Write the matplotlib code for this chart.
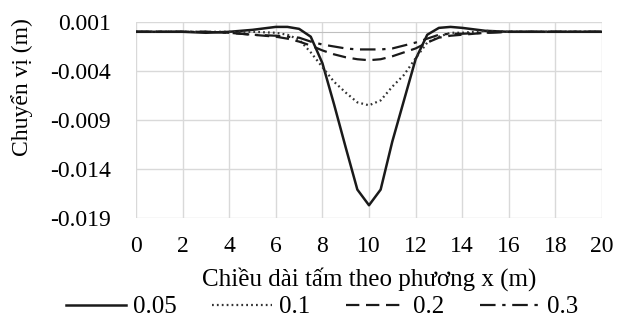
import matplotlib
matplotlib.use('Agg')
import matplotlib.pyplot as plt

# x positions along the plate (m)
x = [0, 1, 2, 3, 4, 5, 6, 6.5, 7, 7.5, 8, 8.5, 9, 9.5, 10, 10.5, 11, 11.5, 12, 12.5, 13, 13.5, 14, 15, 16, 17, 18, 19, 20]

# displacement (m) for each series
d_005 = [0, 0, 0, -0.0001, 0, 0.0002, 0.0005, 0.0005, 0.0003, -0.0005, -0.0032, -0.0074, -0.0118, -0.0161, -0.0177,
         -0.0161, -0.0112, -0.0070, -0.0028, -0.0003, 0.0004, 0.0005, 0.0004, 0.0001, 0, 0, 0, 0, 0]
d_01 = [0, 0, 0, 0, 0, 0, -0.0001, -0.0003, -0.0008, -0.0021, -0.0036, -0.0051, -0.0062, -0.0072, -0.0075,
        -0.0070, -0.0056, -0.0044, -0.0027, -0.0011, -0.0005, -0.0001, -0.0001, 0.0001, 0, 0, 0, 0, 0]
d_02 = [0, 0, 0, 0, -0.0001, -0.0003, -0.0005, -0.0007, -0.0010, -0.0014, -0.0019, -0.0023, -0.0026, -0.0028, -0.0029,
        -0.0028, -0.0025, -0.0021, -0.0017, -0.0011, -0.0006, -0.0004, -0.0003, -0.0001, 0, 0, 0, 0, 0]
d_03 = [0, 0, 0, 0, -0.0001, -0.0003, -0.0004, -0.0005, -0.0006, -0.0010, -0.0013, -0.0015, -0.0017, -0.0018, -0.0018,
        -0.0018, -0.0017, -0.0014, -0.0011, -0.0007, -0.0003, -0.0002, -0.0002, -0.0001, 0, 0, 0, 0, 0]

labels = ['0.05', '0.1', '0.2', '0.3']
xticks = list(range(0, 21, 2))
yticks = [0.001, -0.004, -0.009, -0.014, -0.019]

plt.rcParams['font.family'] = ['Liberation Serif', 'DejaVu Serif']
plt.rcParams['font.size'] = 17

fig = plt.figure(figsize=(6.26, 3.27), dpi=100)
ax = fig.add_axes([136 / 626, 1 - 218 / 327, (602 - 136) / 626, (218 - 22) / 327])

ax.plot(x, d_005, color='#1a1a1a', lw=1.8, ls='-', label=labels[0])
ax.plot(x, d_01, color='#333333', lw=1.6, ls=(0, (0.8, 1.4)), label=labels[1])
ax.plot(x, d_02, color='#1a1a1a', lw=1.6, ls=(0, (6, 3)), label=labels[2])
ax.plot(x, d_03, color='#1a1a1a', lw=1.6, ls=(0, (7, 3, 1.5, 3)), label=labels[3])

ax.axhline(0, color='#bfbfbf', lw=0.8, zorder=1)
ax.set_xlim(0, 20)
ax.set_ylim(-0.019, 0.001)
ax.set_xticks(xticks)
ax.set_yticks(yticks)
ax.set_yticklabels(['%.3f' % v for v in yticks])
ax.grid(True, color='#d9d9d9', lw=1)
ax.set_axisbelow(True)
for s in ax.spines.values():
    s.set_visible(False)
ax.tick_params(axis='x', length=0, pad=13, labelsize=17)
ax.tick_params(axis='y', length=0, pad=18, labelsize=17)

ax.set_xlabel('Chiều dài tấm theo phương x (m)', fontsize=18)
ax.xaxis.set_label_coords(0.5, -0.25)
ax.set_ylabel('Chuyển vị (m)', fontsize=17)
ax.yaxis.set_label_coords(-0.22, 0.67)

fig.legend(loc='center', bbox_to_anchor=(322 / 626, 1 - 307 / 327), ncol=4, frameon=False, fontsize=18,
           handlelength=2.4, columnspacing=1.4, handletextpad=0.3)

fig.savefig('out.png', dpi=100)
